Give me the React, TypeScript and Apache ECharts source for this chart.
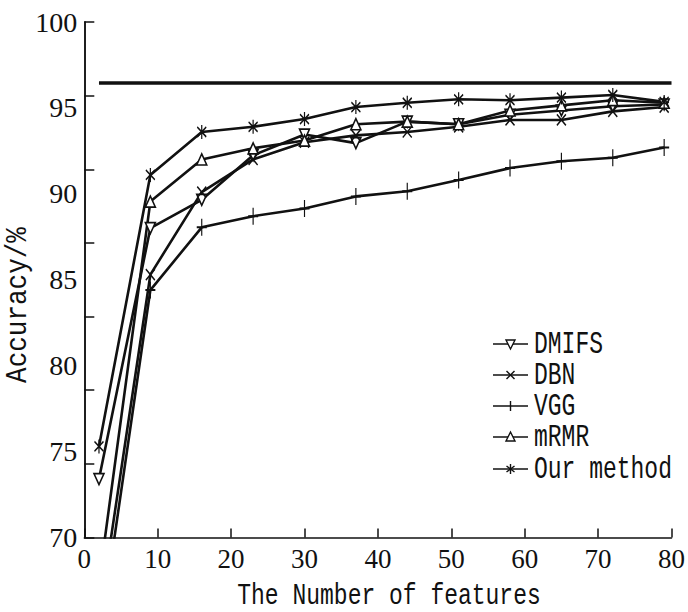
import React, { useEffect, useRef } from "react";
import * as echarts from "echarts";

const xValues = [2, 9, 16, 23, 30, 37, 44, 51, 58, 65, 72, 79];
const dmifs = [73.4, 88.0, 89.65, 92.25, 93.45, 92.95, 94.2, 94.05, 94.6, 94.85, 95.1, 95.2];
const dbn = [65.3, 85.3, 90.1, 92.0, 93.0, 93.4, 93.6, 93.9, 94.3, 94.3, 94.8, 95.05];
const vgg = [63.8, 84.4, 88.05, 88.7, 89.15, 89.85, 90.15, 90.8, 91.5, 91.9, 92.1, 92.7];
const mrmr = [67.4, 89.55, 92.0, 92.65, 93.1, 94.05, 94.2, 94.05, 94.85, 95.15, 95.45, 95.3];
const ours = [75.3, 91.1, 93.6, 93.9, 94.35, 95.05, 95.3, 95.5, 95.45, 95.6, 95.75, 95.35];
const baselineValue = 96.45;
const baselineRange = [2, 80];
const seriesNames = ["DMIFS", "DBN", "VGG", "mRMR", "Our method"];
const xTitle = "The Number of features";
const yTitle = "Accuracy/%";

const PLUS = "path://M5,0L5,10M0,5L10,5";
const CROSS = "path://M0,0L10,10M10,0L0,10";
const STAR = "path://M5,0L5,10M0,1.5L10,8.5M10,1.5L0,8.5";

const SERIF = "'Liberation Serif', 'Times New Roman', Times, serif";
const MONO = "'Liberation Mono', 'Courier New', Courier, monospace";

const pairs = (ys: number[]) => xValues.map((x, i) => [x, ys[i]]);

export default function App() {
  const ref = useRef<HTMLDivElement>(null);
  useEffect(() => {
    if (!ref.current) return;
    const chart = echarts.init(ref.current, undefined, { renderer: "svg" });
    const black = "#111";
    const lineW = 2.6;
    const hollow = { color: "#fff", borderColor: black, borderWidth: 1.6 };
    const stroked = { color: black, borderColor: black, borderWidth: 1.5 };
    const mk = (name: string, ys: number[], symbol: string, size: any, item: any, rot = 0) => ({
      name,
      type: "line",
      data: pairs(ys),
      symbol,
      symbolSize: size,
      symbolRotate: rot,
      showAllSymbol: true,
      lineStyle: { color: black, width: lineW },
      itemStyle: item,
      z: 3,
    });

    const legendX1 = 493;
    const legendX2 = 528;
    const mx = 510.5;
    const rows = [344, 375, 406, 437, 469];
    const legendEls: any[] = [];
    const lstroke = { stroke: black, lineWidth: 1.4 };
    rows.forEach((y, i) => {
      legendEls.push({
        type: "line",
        shape: { x1: legendX1, y1: y, x2: legendX2, y2: y },
        style: { stroke: black, lineWidth: 1.6 },
      });
      if (i === 0) {
        legendEls.push({
          type: "polygon",
          shape: { points: [[mx - 4.5, y - 4], [mx + 4.5, y - 4], [mx, y + 5]] },
          style: { fill: "#fff", ...lstroke },
        });
      } else if (i === 1) {
        legendEls.push({ type: "line", shape: { x1: mx - 4, y1: y - 4, x2: mx + 4, y2: y + 4 }, style: lstroke });
        legendEls.push({ type: "line", shape: { x1: mx + 4, y1: y - 4, x2: mx - 4, y2: y + 4 }, style: lstroke });
      } else if (i === 2) {
        legendEls.push({ type: "line", shape: { x1: mx, y1: y - 5, x2: mx, y2: y + 5 }, style: lstroke });
      } else if (i === 3) {
        legendEls.push({
          type: "polygon",
          shape: { points: [[mx - 4.5, y + 4], [mx + 4.5, y + 4], [mx, y - 5]] },
          style: { fill: "#fff", ...lstroke },
        });
      } else {
        legendEls.push({ type: "line", shape: { x1: mx, y1: y - 5, x2: mx, y2: y + 5 }, style: lstroke });
        legendEls.push({ type: "line", shape: { x1: mx - 4, y1: y - 3, x2: mx + 4, y2: y + 3 }, style: lstroke });
        legendEls.push({ type: "line", shape: { x1: mx + 4, y1: y - 3, x2: mx - 4, y2: y + 3 }, style: lstroke });
      }
      legendEls.push({
        type: "text",
        x: 534,
        y: y,
        scaleY: 1.4,
        style: {
          text: seriesNames[i],
          x: 0,
          y: 0,
          fontFamily: MONO,
          fontSize: 23,
          fill: black,
          textAlign: "left",
          textVerticalAlign: "middle",
          align: "left",
          verticalAlign: "middle",
        },
      });
    });

    const option: any = {
      animation: false,
      backgroundColor: "#fff",
      grid: { left: 84.3, right: 16.3, top: 22, bottom: 74.5, containLabel: false },
      xAxis: {
        type: "value",
        min: 0,
        max: 80,
        interval: 10,
        axisLine: { show: true, lineStyle: { color: black, width: 1.5 } },
        axisTick: { show: true, inside: true, length: 9, lineStyle: { color: black, width: 1.5 } },
        axisLabel: { color: black, fontFamily: SERIF, fontSize: 27, margin: 8 },
        splitLine: { show: false },
      },
      yAxis: [
        {
          type: "value",
          min: 70,
          max: 100,
          interval: 5,
          position: "left",
          axisLine: { show: true, lineStyle: { color: black, width: 1.5 } },
          axisTick: { show: false },
          axisLabel: { color: black, fontFamily: SERIF, fontSize: 28, margin: 7 },
          splitLine: { show: false },
        },
        {
          type: "value",
          min: 0,
          max: 7,
          interval: 1,
          position: "left",
          offset: 0,
          axisLine: { show: true, lineStyle: { color: black, width: 1.5 } },
          axisTick: { show: true, inside: true, length: 10, lineStyle: { color: black, width: 1.5 } },
          axisLabel: { show: false },
          splitLine: { show: false },
        },
      ],
      series: [
        {
          name: "baseline",
          type: "line",
          data: [
            [baselineRange[0], baselineValue],
            [baselineRange[1], baselineValue],
          ],
          symbol: "none",
          lineStyle: { color: black, width: 3.5 },
          z: 2,
        },
        mk(seriesNames[0], dmifs, "triangle", [10, 11], hollow, 180),
        mk(seriesNames[1], dbn, CROSS, [9, 11], stroked),
        mk(seriesNames[2], vgg, PLUS, [10, 17], stroked),
        mk(seriesNames[3], mrmr, "triangle", [10, 11], hollow),
        mk(seriesNames[4], ours, STAR, [9, 14], stroked),
      ],
      graphic: [
        ...legendEls,
        {
          type: "text",
          x: 389,
          y: 596,
          scaleY: 1.3,
          style: {
            text: xTitle,
            x: 0,
            y: 0,
            fontFamily: MONO,
            fontSize: 23,
            fill: black,
            textAlign: "center",
            textVerticalAlign: "middle",
            align: "center",
            verticalAlign: "middle",
          },
        },
        {
          type: "text",
          x: 18,
          y: 305,
          rotation: Math.PI / 2,
          scaleY: 1.15,
          style: {
            text: yTitle,
            x: 0,
            y: 0,
            fontFamily: MONO,
            fontSize: 26,
            fill: black,
            textAlign: "center",
            textVerticalAlign: "middle",
            align: "center",
            verticalAlign: "middle",
          },
        },
      ],
    };
    chart.setOption(option);
    return () => chart.dispose();
  }, []);
  return (
    <div
      ref={ref}
      style={{ position: "fixed", left: 0, top: 0, width: 688, height: 612, background: "#fff" }}
    />
  );
}
